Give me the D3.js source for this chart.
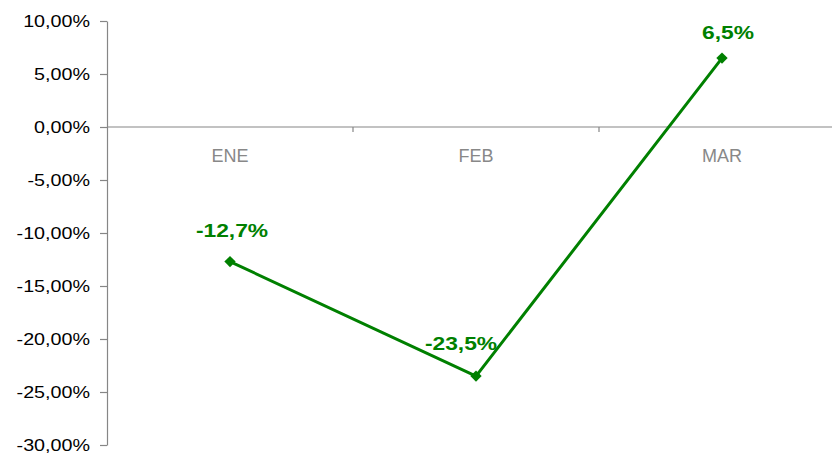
<!DOCTYPE html>
<html>
<head>
<meta charset="utf-8">
<script src="https://cdn.jsdelivr.net/npm/d3@7"></script>
<style>
  body { margin: 0; background: #fff; }
  svg { font-family: "Liberation Sans", Arial, sans-serif; }
</style>
</head>
<body>
<div id="chart"></div>
<script>
// data
const months = ['ENE', 'FEB', 'MAR'];
const variation = [-12.7, -23.5, 6.5];
const labels = ['-12,7%', '-23,5%', '6,5%'];
const yTicks = [10, 5, 0, -5, -10, -15, -20, -25, -30];

// label nudges (px) so they sit like the original
const labelShift = [[2, -25], [-15, -26], [6, -19]];

const svgWidth = 832;
const svgHeight = 454;
const green = '#008000';
const axisGrey = '#868686';

var margins = { top: 21, bottom: 9, left: 107, right: -13 };
var height = svgHeight - margins.top - margins.bottom;
var width = svgWidth - margins.left - margins.right;

var svg = d3.select('#chart')
    .append('svg')
    .attr('width', svgWidth)
    .attr('height', svgHeight);

var chartGroup = svg.append('g')
    .attr('transform', `translate(${margins.left}, ${margins.top})`);

// scales
var xBand = d3.scaleBand()
    .domain(months)
    .range([0, width])
    .padding(0);

var yScale = d3.scaleLinear()
    .domain([-30, 10])
    .range([height, 0]);

// y axis (plain hyphen minus, comma decimals)
var leftAxis = d3.axisLeft(yScale)
    .tickValues(yTicks)
    .tickSizeInner(7)
    .tickSizeOuter(0)
    .tickPadding(0)
    .tickFormat(d => d.toFixed(2).replace('.', ',') + '%');

var yAxisG = chartGroup.append('g').call(leftAxis);
yAxisG.select('.domain').attr('stroke', axisGrey).attr('stroke-width', 1.2);
yAxisG.selectAll('.tick line').attr('stroke', axisGrey).attr('stroke-width', 1.2);
yAxisG.selectAll('.tick text')
    .attr('x', -17 / 1.16)
    .attr('dy', '0.34em')
    .attr('transform', 'scale(1.16,1)')
    .style('font-size', '17px')
    .attr('fill', '#000');

// x axis along zero
var zeroG = chartGroup.append('g')
    .attr('transform', `translate(0, ${yScale(0)})`);

zeroG.append('line')
    .attr('x1', 0)
    .attr('x2', width)
    .attr('stroke', axisGrey)
    .attr('stroke-width', 1.2);

zeroG.selectAll('.bound')
    .data(months.slice(1).concat(['end']))
    .enter()
    .append('line')
    .attr('class', 'bound')
    .attr('x1', d => d === 'end' ? width : xBand(d))
    .attr('x2', d => d === 'end' ? width : xBand(d))
    .attr('y1', 0)
    .attr('y2', 5)
    .attr('stroke', axisGrey)
    .attr('stroke-width', 1.2);

zeroG.selectAll('.cat')
    .data(months)
    .enter()
    .append('text')
    .attr('class', 'cat')
    .attr('x', d => xBand(d) + xBand.bandwidth() / 2)
    .attr('y', 35)
    .style('font-size', '18px')
    .style('text-anchor', 'middle')
    .attr('fill', '#888')
    .text(d => d);

// line
var cx = i => xBand(months[i]) + xBand.bandwidth() / 2;

var line = d3.line()
    .x((d, i) => cx(i))
    .y(d => yScale(d));

chartGroup.append('path')
    .datum(variation)
    .attr('d', line)
    .attr('fill', 'none')
    .attr('stroke', green)
    .attr('stroke-width', 3);

// diamond markers
chartGroup.selectAll('.marker')
    .data(variation)
    .enter()
    .append('path')
    .attr('class', 'marker')
    .attr('d', d3.symbol().type(d3.symbolSquare).size(64))
    .attr('transform', (d, i) => `translate(${cx(i)}, ${yScale(d)}) rotate(45)`)
    .attr('fill', green);

// data labels
chartGroup.selectAll('.val')
    .data(variation)
    .enter()
    .append('text')
    .attr('class', 'val')
    .attr('transform', (d, i) =>
        `translate(${cx(i) + labelShift[i][0]}, ${yScale(d) + labelShift[i][1]}) scale(1.2,1)`)
    .style('font-size', '19px')
    .style('font-weight', 'bold')
    .style('text-anchor', 'middle')
    .attr('fill', green)
    .text((d, i) => labels[i]);
</script>
</body>
</html>
